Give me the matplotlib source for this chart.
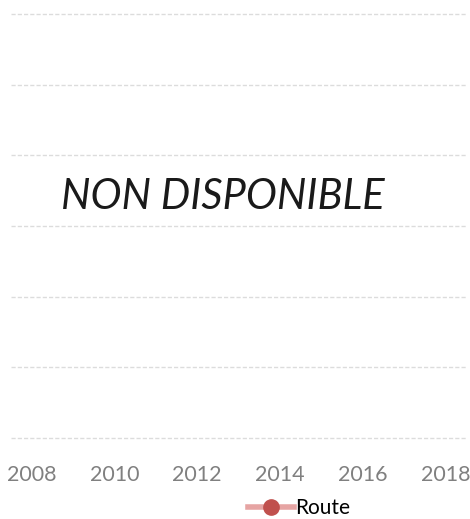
import numpy as np
import matplotlib
matplotlib.use("Agg")
import matplotlib.pyplot as plt

years = list(range(2008, 2019))
route = [np.nan] * len(years)
tick_years = [2008, 2010, 2012, 2014, 2016, 2018]
message = "NON DISPONIBLE"

plt.rcParams['font.family'] = ['Lato', 'DejaVu Sans']

fig = plt.figure(figsize=(4.70, 5.19), dpi=100)
ax = fig.add_axes([11 / 470, 1 - 437.7 / 519, 455 / 470, 423.4 / 519])

ax.plot(years, route, color='#e6a4a3', lw=4, marker='o', ms=11,
        markerfacecolor='#c0504d', markeredgecolor='#c0504d', label='Route')

ax.set_xlim(2007.5, 2018.5)
ax.set_ylim(0, 6)
ax.set_yticks(range(7))
ax.set_yticklabels([])
ax.set_xticks(tick_years)
ax.set_xticklabels([str(y) for y in tick_years], color='#808080', fontsize=15.5)
ax.tick_params(axis='both', length=0)
ax.tick_params(axis='x', pad=20)
ax.grid(axis='y', color='#dcdcdc', linestyle=(0, (3, 1.5)), lw=1)
for gl in ax.get_ygridlines():
    gl.set_clip_on(False)
for s in ax.spines.values():
    s.set_visible(False)

ax.text(223 / 470, 1 - 197 / 519, message, transform=fig.transFigure,
        ha='center', va='center', fontsize=30, style='italic', color='#1a1a1a')

fig.legend(loc='center', bbox_to_anchor=(299 / 470, 1 - 508 / 519),
           frameon=False, fontsize=15, handlelength=2.2, handletextpad=0.05,
           borderpad=0)

fig.savefig('out.png', dpi=100)
